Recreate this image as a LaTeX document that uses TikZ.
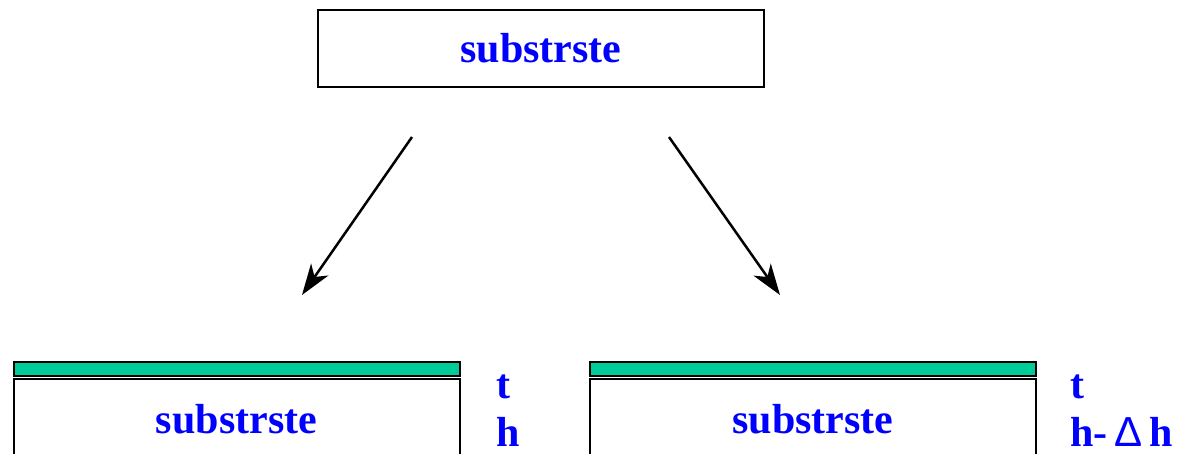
\documentclass[tikz,border=0pt]{standalone}
\usepackage{fontspec}
\setmainfont{Liberation Serif}
\usepackage{xcolor}
\usetikzlibrary{arrows.meta,positioning,calc}
\definecolor{LayerGreen}{RGB}{0,204,153}
\definecolor{TextBlue}{RGB}{0,0,255}

\begin{document}
\begin{tikzpicture}[x=1pt, y=-1pt, every node/.style={font=\fontsize{42}{46}\selectfont\bfseries, text=TextBlue}]
\tikzset{
  subbox/.style={draw, line width=2pt, fill=white, minimum width=446pt, inner sep=0pt},
  layerbox/.style={draw, line width=2pt, fill=LayerGreen, minimum width=446pt, minimum height=14pt, inner sep=0pt},
  flow/.style={line width=2.5pt, -{Stealth[length=31pt, width=21pt, inset=9pt]}}
}
\clip (0,0) rectangle (1178,453);
\node[subbox, minimum height=77pt] (top) at (541,48.5) {substrste};
\node[layerbox] (layerL) at (236.5,369) {};
\node[subbox, minimum height=81pt, below=1pt of layerL] (subL) {substrste};
\node[layerbox] (layerR) at (813,369) {};
\node[subbox, minimum height=81pt, below=1pt of layerR] (subR) {substrste};
\node[anchor=base west] (tL) at (493,398) {t};
\node[anchor=base west] (hL) at (493,446) {h};
\node[anchor=base west] (tR) at (1067,398) {t};
\node[anchor=base west] (hR) at (1067,446) {h-\,{\mdseries\fontspec{Liberation Sans}Δ}\,h};
\coordinate (aL1) at (412,137);
\coordinate (aL2) at (302,295);
\coordinate (aR1) at (669,137);
\coordinate (aR2) at (780,295);
\draw[flow] (aL1) -- (aL2);
\draw[flow] (aR1) -- (aR2);
\end{tikzpicture}
\end{document}
